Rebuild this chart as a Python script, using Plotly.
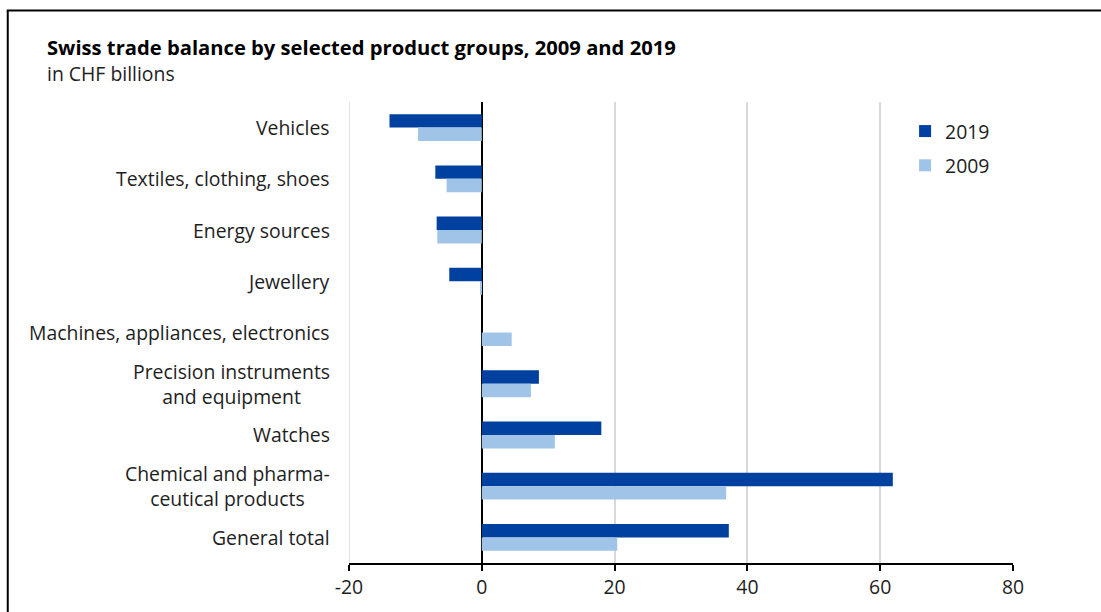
import plotly.graph_objects as go

# Product groups, top to bottom
categories = [
    "Vehicles",
    "Textiles, clothing, shoes",
    "Energy sources",
    "Jewellery",
    "Machines, appliances, electronics",
    "Precision instruments<br>and equipment",
    "Watches",
    "Chemical and pharma-<br>ceutical products",
    "General total",
]

# Trade balance in CHF billions
values_2019 = [-13.9, -7.0, -6.8, -4.9, 0.0, 8.6, 18.0, 61.9, 37.2]
values_2009 = [-9.6, -5.3, -6.7, -0.2, 4.5, 7.4, 11.0, 36.8, 20.4]

x_ticks = [-20, 0, 20, 40, 60, 80]

FONT = "Open Sans"
TEXT = "#1e1e1e"
DARK_BLUE = "#0041a0"
LIGHT_BLUE = "#a0c4e8"
GRID = "#d9d9d9"

# Plot area in pixels
L, R, T, B = 348.5, 1013.0, 102.0, 565.0
PW, PH = R - L, B - T


def px_x(px):
    return (px - L) / PW


def px_y(py):
    return 1 - (py - T) / PH


fig = go.Figure()
fig.add_trace(go.Bar(
    y=list(range(len(categories))), x=values_2019, name="2019", orientation="h",
    marker=dict(color=DARK_BLUE, line=dict(width=0)), legendgroup="a",
))
fig.add_trace(go.Bar(
    y=list(range(len(categories))), x=values_2009, name="2009", orientation="h",
    marker=dict(color=LIGHT_BLUE, line=dict(width=0)), legendgroup="b",
))

# Category labels, right-aligned block with centred lines
label_anns = []
for i, cat in enumerate(categories):
    label_anns.append(dict(
        text=cat, xref="paper", yref="y", x=0, y=i, xshift=-17,
        xanchor="right", yanchor="middle", align="center", showarrow=False,
        font=dict(family=FONT, size=19.4, color=TEXT),
    ))

header_anns = [
    dict(text="<b>Swiss trade balance by selected product groups, 2009 and 2019</b>",
         xref="paper", yref="paper", x=px_x(44), y=px_y(47),
         xanchor="left", yanchor="middle", showarrow=False,
         font=dict(family=FONT, size=20.2, color="#000000")),
    dict(text="in CHF billions",
         xref="paper", yref="paper", x=px_x(44), y=px_y(73),
         xanchor="left", yanchor="middle", showarrow=False,
         font=dict(family=FONT, size=19.4, color=TEXT)),
]

shapes = [
    # gridline at the left edge of the value axis
    dict(type="line", xref="x", yref="paper",
         x0=x_ticks[0], x1=x_ticks[0], y0=0, y1=1,
         line=dict(color=GRID, width=1.5), layer="below"),
    # frame lines along the left and top edges
    dict(type="line", xref="paper", yref="paper",
         x0=px_x(7), x1=px_x(7), y0=px_y(10), y1=px_y(620),
         line=dict(color="#000000", width=2)),
    dict(type="line", xref="paper", yref="paper",
         x0=px_x(6), x1=px_x(1110), y0=px_y(10), y1=px_y(10),
         line=dict(color="#000000", width=2)),
]

fig.update_layout(
    width=1101, height=612,
    margin=dict(l=L, r=1101 - R, t=T, b=612 - B),
    paper_bgcolor="white", plot_bgcolor="white",
    barmode="group", bargap=0.475, bargroupgap=0,
    font=dict(family=FONT, size=19, color=TEXT),
    showlegend=True,
    legend=dict(
        x=px_x(905), y=px_y(112),
        xanchor="left", yanchor="top",
        traceorder="grouped", tracegroupgap=6,
        font=dict(family=FONT, size=19.4, color=TEXT),
        itemwidth=30, bgcolor="rgba(0,0,0,0)",
    ),
    xaxis=dict(
        range=[-20, 80], tickvals=x_ticks, ticktext=[str(v) for v in x_ticks],
        showgrid=True, gridcolor=GRID, gridwidth=1.5,
        zeroline=True, zerolinecolor="#000000", zerolinewidth=2,
        showline=True, linecolor="#000000", linewidth=2,
        ticks="outside", ticklen=6, tickwidth=2, tickcolor="#000000",
        tickfont=dict(family=FONT, size=19.4, color=TEXT),
        fixedrange=True,
    ),
    yaxis=dict(
        range=[len(categories) - 0.5, -0.5],
        showticklabels=False, showgrid=False, zeroline=False, showline=False,
        ticks="", fixedrange=True,
    ),
    annotations=label_anns + header_anns,
    shapes=shapes,
)

fig.write_html("out.html")
